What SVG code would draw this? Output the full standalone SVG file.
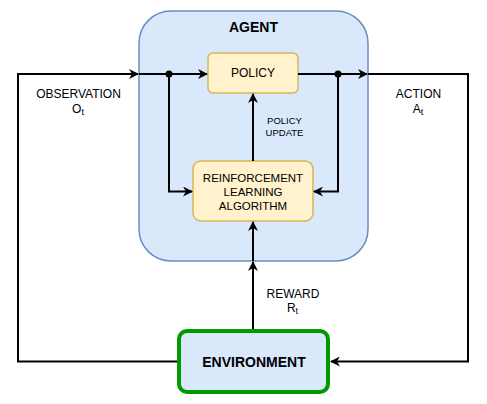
<svg xmlns="http://www.w3.org/2000/svg" width="487" height="404" viewBox="0 0 487 404">
<style>
text{font-family:"Liberation Sans",Arial,sans-serif;fill:#000;text-anchor:middle;dominant-baseline:central}
.lbl{font-size:12px}
.sm{font-size:9.5px}
.b{font-weight:bold}
.ln{fill:none;stroke:#000;stroke-width:2}
</style>
<defs>
<marker id="arr" viewBox="0 0 10 10" refX="9" refY="5" markerWidth="10" markerHeight="10" markerUnits="userSpaceOnUse" orient="auto">
<path d="M0,0 L10,5 L0,10 L3,5 Z" fill="#000"/>
</marker>
</defs>
<g id="agent">
<rect x="139" y="11" width="229" height="250" rx="32" fill="#dae8fc" stroke="#6c8ebf" stroke-width="1.5"/>
<text x="253.5" y="27" class="b" style="font-size:14px">AGENT</text>
</g>
<g id="policy">
<rect x="208" y="53" width="90" height="40" rx="5" fill="#fff2cc" stroke="#d6b656" stroke-width="1.5"/>
<text x="253" y="73" class="lbl">POLICY</text>
</g>
<g id="rl">
<rect x="193" y="161" width="120" height="60" rx="8" fill="#fff2cc" stroke="#d6b656" stroke-width="1.5"/>
<text class="lbl" style="font-size:11.5px"><tspan x="253" y="177.5">REINFORCEMENT</tspan><tspan x="253" y="191.5">LEARNING</tspan><tspan x="253" y="205.5">ALGORITHM</tspan></text>
</g>
<g id="environment">
<rect x="179" y="331" width="149" height="61" rx="8" fill="#dae8fc" stroke="#009900" stroke-width="4"/>
<text x="254" y="362" class="b" style="font-size:14px">ENVIRONMENT</text>
</g>
<g id="connectors">
<path class="ln" d="M177,361.5 H18 V74 H138" marker-end="url(#arr)"/>
<path class="ln" d="M139,74 H207" marker-end="url(#arr)"/>
<circle cx="169" cy="74" r="3.5" fill="#000"/>
<path class="ln" d="M169,74 V191.5 H192" marker-end="url(#arr)"/>
<path class="ln" d="M298,74 H367" marker-end="url(#arr)"/>
<circle cx="338" cy="74" r="3.5" fill="#000"/>
<path class="ln" d="M338,74 V191.5 H314" marker-end="url(#arr)"/>
<path class="ln" d="M368,74 H468 V361.5 H331" marker-end="url(#arr)"/>
<path class="ln" d="M253,161 V94" marker-end="url(#arr)"/>
<path class="ln" d="M253,329 V262" marker-end="url(#arr)"/>
<path class="ln" d="M253,261 V222" marker-end="url(#arr)"/>
<text x="284.5" y="120" class="sm">POLICY</text>
<text x="284.5" y="132.5" class="sm">UPDATE</text>
<text x="78.5" y="94" class="lbl">OBSERVATION</text>
<text x="78" y="109" class="lbl">O<tspan style="font-size:9px" dy="3">t</tspan></text>
<text x="418.5" y="94" class="lbl">ACTION</text>
<text x="418" y="109" class="lbl">A<tspan style="font-size:9px" dy="3">t</tspan></text>
<text x="293" y="294" class="lbl">REWARD</text>
<text x="292.5" y="308" class="lbl">R<tspan style="font-size:9px" dy="3">t</tspan></text>
</g>
</svg>
